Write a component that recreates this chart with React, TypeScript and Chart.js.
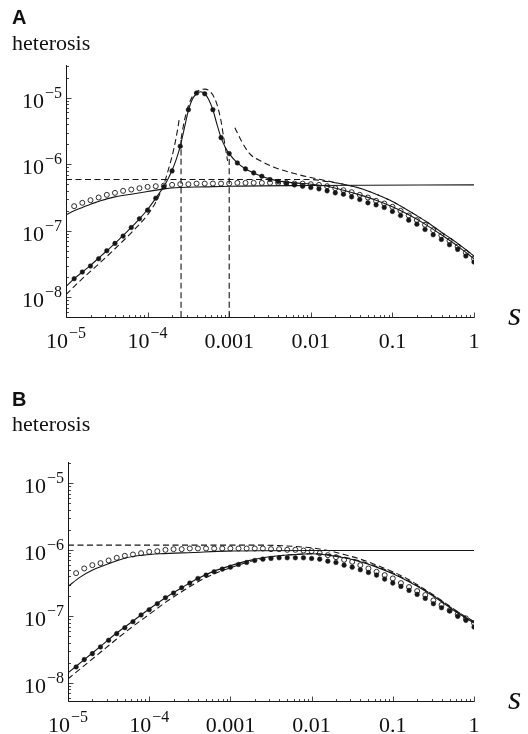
import React, { useEffect, useRef } from "react";
import { Chart, registerables } from "chart.js";

Chart.register(...registerables);

const SERIF = "'Liberation Serif', 'Times New Roman', serif";
const SANS = "'Liberation Sans', Arial, sans-serif";

// ---- axis ticks / labels ----
const xTickValues = [1e-5, 1e-4, 1e-3, 1e-2, 1e-1, 1];
const xTickBase = ["10", "10", "0.001", "0.01", "0.1", "1"];
const xTickExp = ["−5", "−4", "", "", "", ""];
const yTickValues = [1e-8, 1e-7, 1e-6, 1e-5];
const yTickBase = ["10", "10", "10", "10"];
const yTickExp = ["−8", "−7", "−6", "−5"];

// ---- shared simulation abscissae (log10 s) ----
const dotLogS = [
  -4.9, -4.8, -4.7, -4.6, -4.5, -4.4, -4.3, -4.2, -4.1, -4.0,
  -3.9, -3.8, -3.7, -3.6, -3.5, -3.4, -3.3, -3.2, -3.1, -3.0,
  -2.9, -2.8, -2.7, -2.6, -2.5, -2.4, -2.3, -2.2, -2.1, -2.0,
  -1.9, -1.8, -1.7, -1.6, -1.5, -1.4, -1.3, -1.2, -1.1, -1.0,
  -0.9, -0.8, -0.7, -0.6, -0.5, -0.4, -0.3, -0.2, -0.1, 0,
];

// ================= Panel A (log10 heterosis) =================
const A_filled = [
  -7.72, -7.62, -7.53, -7.42, -7.30, -7.19, -7.08, -6.95, -6.82, -6.69,
  -6.51, -6.34, -6.10, -5.73, -5.18, -4.93, -4.94, -5.18, -5.60, -5.84,
  -5.98, -6.07, -6.13, -6.18, -6.23, -6.26, -6.29, -6.31, -6.33, -6.35,
  -6.37, -6.40, -6.43, -6.45, -6.49, -6.53, -6.58, -6.61, -6.65, -6.71,
  -6.77, -6.84, -6.90, -6.98, -7.06, -7.13, -7.21, -7.28, -7.38, -7.47,
];
const A_open = [
  -6.63, -6.58, -6.54, -6.50, -6.46, -6.43, -6.40, -6.38, -6.36, -6.34,
  -6.33, -6.32, -6.31, -6.30, -6.30, -6.29, -6.29, -6.29, -6.29, -6.29,
  -6.28, -6.28, -6.28, -6.28, -6.28, -6.28, -6.28, -6.29, -6.29, -6.30,
  -6.31, -6.33, -6.36, -6.39, -6.42, -6.46, -6.50, -6.55, -6.59, -6.64,
  -6.70, -6.77, -6.84, -6.91, -6.99, -7.07, -7.15, -7.24, -7.33, -7.42,
];
const A_solidPeakS = [
  -5.0, -4.9, -4.8, -4.7, -4.6, -4.5, -4.4, -4.3, -4.2, -4.1, -4.0, -3.9, -3.8,
  -3.75, -3.7, -3.65, -3.6, -3.55, -3.5, -3.45, -3.4, -3.35, -3.3, -3.25, -3.2,
  -3.15, -3.1, -3.05, -3.0, -2.9, -2.8, -2.7, -2.6, -2.5, -2.4, -2.2, -2.0,
  -1.8, -1.6, -1.4, -1.2, -1.0, -0.8, -0.6, -0.4, -0.2, 0,
];
const A_solidPeakH = [
  -7.84, -7.72, -7.62, -7.52, -7.41, -7.30, -7.19, -7.07, -6.95, -6.82, -6.68, -6.51, -6.33,
  -6.22, -6.09, -5.93, -5.73, -5.46, -5.19, -5.02, -4.94, -4.91, -4.94, -5.03, -5.18,
  -5.40, -5.60, -5.74, -5.84, -5.98, -6.07, -6.13, -6.18, -6.22, -6.25, -6.28, -6.30,
  -6.33, -6.39, -6.46, -6.54, -6.64, -6.76, -6.90, -7.06, -7.23, -7.42,
];
const A_dashPeakS = [
  -5.0, -4.8, -4.6, -4.4, -4.2, -4.0, -3.9, -3.8, -3.75, -3.7, -3.66, -3.63, -3.61,
  -3.6,
  -3.59, -3.55, -3.5, -3.45, -3.4, -3.35, -3.3, -3.25, -3.2, -3.15, -3.1, -3.07, -3.04, -3.02,
  -3.0,
  -2.93, -2.85, -2.75, -2.6, -2.46, -2.2, -2.0, -1.8, -1.6, -1.4, -1.2, -1.0, -0.8,
  -0.6, -0.4, -0.2, 0,
];
const A_dashPeakH = [
  -7.96, -7.72, -7.50, -7.27, -7.03, -6.76, -6.57, -6.30, -6.10, -5.88, -5.66, -5.46, -5.30,
  null,
  -5.62, -5.35, -5.12, -4.98, -4.91, -4.88, -4.87, -4.89, -4.96, -5.10, -5.35, -5.58, -5.80, -5.95,
  null,
  -5.45, -5.65, -5.84, -5.96, -6.04, -6.14, -6.20, -6.25, -6.30, -6.36, -6.45, -6.56, -6.70,
  -6.85, -7.02, -7.19, -7.38,
];
const A_solidFlatS = [-5.0, -4.9, -4.8, -4.7, -4.6, -4.5, -4.4, -4.2, -4.0, -3.8, -3.6, -3.3, -3.0, -2.0, 0];
const A_solidFlatH = [-6.76, -6.70, -6.65, -6.60, -6.56, -6.52, -6.49, -6.45, -6.41, -6.37, -6.35, -6.34, -6.33, -6.32, -6.31];
const A_dashFlatS = [-5.0, -2.0, -1.8, -1.6, -1.4, -1.2, -1.0, -0.8, -0.6, -0.4, -0.2, 0];
const A_dashFlatH = [-6.23, -6.23, -6.26, -6.30, -6.36, -6.45, -6.56, -6.70, -6.85, -7.02, -7.19, -7.38];
const A_vLineS = [-3.59, -3.0];
const A_vLineTopH = [-5.62, -5.90];

// ================= Panel B (log10 heterosis) =================
const B_filled = [
  -7.76, -7.65, -7.56, -7.46, -7.36, -7.26, -7.17, -7.08, -6.98, -6.90,
  -6.81, -6.72, -6.65, -6.57, -6.50, -6.43, -6.38, -6.33, -6.29, -6.26,
  -6.22, -6.19, -6.16, -6.14, -6.13, -6.12, -6.12, -6.12, -6.12, -6.13,
  -6.14, -6.17, -6.19, -6.23, -6.26, -6.30, -6.34, -6.38, -6.44, -6.50,
  -6.55, -6.61, -6.67, -6.73, -6.81, -6.87, -6.92, -7.00, -7.06, -7.16,
];
const B_open = [
  -6.35, -6.28, -6.23, -6.20, -6.16, -6.12, -6.09, -6.07, -6.05, -6.03,
  -6.02, -6.00, -5.99, -5.99, -5.98, -5.98, -5.98, -5.98, -5.98, -5.98,
  -5.98, -5.98, -5.98, -5.98, -5.99, -5.99, -6.00, -6.00, -6.01, -6.02,
  -6.05, -6.08, -6.11, -6.15, -6.18, -6.23, -6.28, -6.33, -6.38, -6.43,
  -6.50, -6.56, -6.62, -6.68, -6.76, -6.83, -6.91, -6.97, -7.03, -7.10,
];
const B_solidPeakS = [
  -5.0, -4.9, -4.8, -4.6, -4.4, -4.2, -4.0, -3.8, -3.6, -3.4, -3.2, -3.0, -2.8,
  -2.6, -2.4, -2.2, -2.0, -1.8, -1.6, -1.4, -1.2, -1.0, -0.8, -0.6, -0.4, -0.2, 0,
];
const B_solidPeakH = [
  -7.85, -7.75, -7.65, -7.45, -7.25, -7.07, -6.89, -6.72, -6.57, -6.43, -6.32, -6.24, -6.17,
  -6.12, -6.09, -6.07, -6.06, -6.08, -6.12, -6.18, -6.26, -6.36, -6.48, -6.62, -6.78, -6.95, -7.10,
];
const B_dashLowS = [
  -5.0, -4.8, -4.6, -4.4, -4.2, -4.0, -3.8, -3.6, -3.4, -3.2, -3.0, -2.8, -2.6,
  -2.4, -2.2, -2.0, -1.8, -1.6, -1.4, -1.2, -1.0, -0.8, -0.6, -0.4, -0.2, 0,
];
const B_dashLowH = [
  -7.94, -7.74, -7.54, -7.34, -7.15, -6.97, -6.79, -6.63, -6.48, -6.36, -6.27, -6.19, -6.13,
  -6.09, -6.07, -6.06, -6.07, -6.11, -6.17, -6.25, -6.35, -6.47, -6.61, -6.77, -6.94, -7.09,
];
const B_solidFlatS = [-5.0, -4.85, -4.69, -4.48, -4.28, -4.07, -3.87, -3.46, -3.05, -2.0, 0];
const B_solidFlatH = [-6.55, -6.41, -6.30, -6.20, -6.12, -6.08, -6.06, -6.04, -6.02, -6.01, -6.01];
const B_dashFlatS = [-5.0, -2.6, -2.2, -2.0, -1.8, -1.6, -1.4, -1.2, -1.0, -0.8, -0.6, -0.4, -0.2, 0];
const B_dashFlatH = [-5.93, -5.93, -5.95, -5.97, -6.01, -6.07, -6.14, -6.23, -6.33, -6.45, -6.60, -6.76, -6.93, -7.08];

// ---------------------------------------------------------------
const toPts = (ls: number[], lh: (number | null)[]) =>
  ls.map((e, i) => ({ x: Math.pow(10, e), y: lh[i] === null ? null : Math.pow(10, lh[i] as number) }));

const INK = "#161616";

function lineDs(data: any[], dashed: boolean) {
  return {
    data,
    borderColor: INK,
    borderWidth: 1.1,
    borderDash: dashed ? [6, 3.5] : [],
    pointRadius: 0,
    fill: false,
    cubicInterpolationMode: "monotone",
    spanGaps: false,
    showLine: true,
  };
}
function filledDs(data: any[]) {
  return { data, showLine: false, pointRadius: 2.3, pointBackgroundColor: INK, pointBorderColor: INK, pointBorderWidth: 0.5 };
}
function openDs(data: any[]) {
  return { data, showLine: false, pointRadius: 2.5, pointBackgroundColor: "rgba(0,0,0,0)", pointBorderColor: INK, pointBorderWidth: 0.9 };
}

function drawPow(ctx: CanvasRenderingContext2D, base: string, exp: string, x: number, y: number, align: "center" | "right") {
  ctx.font = `22px ${SERIF}`;
  const wb = ctx.measureText(base).width;
  ctx.font = `16px ${SERIF}`;
  const we = exp ? ctx.measureText(exp).width + 1 : 0;
  const total = wb + we;
  const x0 = align === "center" ? x - total / 2 : x - total;
  ctx.textAlign = "left";
  ctx.textBaseline = "alphabetic";
  ctx.font = `22px ${SERIF}`;
  ctx.fillText(base, x0, y);
  if (exp) {
    ctx.font = `16px ${SERIF}`;
    ctx.fillText(exp, x0 + wb + 1, y - 10);
  }
}

const decorPlugin = {
  id: "decor",
  afterDraw(chart: any, _args: any, opts: any) {
    const { ctx, chartArea: ca, scales } = chart;
    const xs = scales.x;
    const ys = scales.y;
    ctx.save();
    ctx.strokeStyle = INK;
    ctx.fillStyle = INK;
    ctx.lineWidth = 1;
    const ax = Math.round(ca.left) + 0.5;
    const ay = Math.round(ca.bottom) + 0.5;
    ctx.beginPath();
    ctx.moveTo(ax, ca.top);
    ctx.lineTo(ax, ay);
    ctx.lineTo(ca.right + 0.5, ay);
    ctx.stroke();

    // minor / major ticks (inside)
    ctx.lineWidth = 0.8;
    ctx.beginPath();
    for (let e = -9; e <= 0; e++) {
      for (let m = 1; m <= 9; m++) {
        const v = m * Math.pow(10, e);
        if (v >= xs.min * 0.999 && v <= xs.max * 1.001) {
          const px = Math.round(xs.getPixelForValue(v)) + 0.5;
          const len = m === 1 ? 5 : 2.5;
          ctx.moveTo(px, ay);
          ctx.lineTo(px, ay - len);
        }
        if (v >= ys.min && v <= ys.max) {
          const py = Math.round(ys.getPixelForValue(v)) + 0.5;
          const len = m === 1 ? 5 : 2.5;
          ctx.moveTo(ax, py);
          ctx.lineTo(ax + len, py);
        }
      }
    }
    ctx.stroke();

    ctx.fillStyle = "#111";
    xTickValues.forEach((v, i) => {
      drawPow(ctx, xTickBase[i], xTickExp[i], xs.getPixelForValue(v), ca.bottom + 31, "center");
    });
    yTickValues.forEach((v, i) => {
      drawPow(ctx, yTickBase[i], yTickExp[i], ca.left - 4, ys.getPixelForValue(v) + 10, "right");
    });

    // panel letter
    ctx.textAlign = "left";
    ctx.font = `bold 20px ${SANS}`;
    ctx.fillText(opts.letter, 12, opts.letterY);
    ctx.font = `22px ${SERIF}`;
    ctx.fillText("heterosis", 12, opts.labelY);
    ctx.font = `italic 34px ${SERIF}`;
    ctx.fillText("s", ca.right + 34, ca.bottom + 8);
    ctx.restore();
  },
};

function buildConfig(p: any) {
  return {
    type: "line",
    data: { datasets: p.datasets },
    options: {
      responsive: false,
      animation: false,
      events: [],
      layout: { padding: p.padding },
      plugins: {
        legend: { display: false },
        tooltip: { enabled: false },
        decor: { letter: p.letter, letterY: p.letterY, labelY: p.labelY },
      },
      scales: {
        x: {
          type: "logarithmic",
          min: 1e-5,
          max: 1,
          ticks: { display: false },
          grid: { display: false },
          border: { display: false },
          afterFit: (s: any) => { s.height = 0; },
        },
        y: {
          type: "logarithmic",
          min: p.yMin,
          max: p.yMax,
          ticks: { display: false },
          grid: { display: false },
          border: { display: false },
          afterFit: (s: any) => { s.width = 0; },
        },
      },
    },
    plugins: [decorPlugin],
  };
}

function vLines(ls: number[], top: number[], yMin: number) {
  return ls.map((e, i) =>
    lineDs([{ x: Math.pow(10, e), y: yMin }, { x: Math.pow(10, e), y: Math.pow(10, top[i]) }], true)
  );
}

const A_yMin = Math.pow(10, -8.296);
const A_yMax = Math.pow(10, -4.508);
const B_yMin = Math.pow(10, -8.272);
const B_yMax = Math.pow(10, -4.68);

function panelA() {
  return {
    letter: "A",
    letterY: 24,
    labelY: 50,
    yMin: A_yMin,
    yMax: A_yMax,
    padding: { left: 66, right: 54, top: 65, bottom: 50 },
    datasets: [
      filledDs(toPts(dotLogS, A_filled)),
      openDs(toPts(dotLogS, A_open)),
      lineDs(toPts(A_solidPeakS, A_solidPeakH), false),
      lineDs(toPts(A_dashPeakS, A_dashPeakH), true),
      lineDs(toPts(A_solidFlatS, A_solidFlatH), false),
      lineDs(toPts(A_dashFlatS, A_dashFlatH), true),
      ...vLines(A_vLineS, A_vLineTopH, A_yMin),
    ],
  };
}

function panelB() {
  return {
    letter: "B",
    letterY: 39,
    labelY: 64,
    yMin: B_yMin,
    yMax: B_yMax,
    padding: { left: 68, right: 54, top: 95, bottom: 33 },
    datasets: [
      filledDs(toPts(dotLogS, B_filled)),
      openDs(toPts(dotLogS, B_open)),
      lineDs(toPts(B_solidPeakS, B_solidPeakH), false),
      lineDs(toPts(B_dashLowS, B_dashLowH), true),
      lineDs(toPts(B_solidFlatS, B_solidFlatH), false),
      lineDs(toPts(B_dashFlatS, B_dashFlatH), true),
    ],
  };
}

function Panel({ make, top }: { make: () => any; top: number }) {
  const ref = useRef<HTMLCanvasElement | null>(null);
  useEffect(() => {
    if (!ref.current) return;
    const chart = new Chart(ref.current, buildConfig(make()) as any);
    return () => chart.destroy();
  }, [make]);
  return (
    <canvas
      ref={ref}
      width={528}
      height={367}
      style={{ position: "absolute", left: 0, top, width: 528, height: 367 }}
    />
  );
}

export default function App() {
  return (
    <div style={{ position: "absolute", left: 0, top: 0, width: 528, height: 734, background: "#fff" }}>
      <Panel make={panelA} top={0} />
      <Panel make={panelB} top={367} />
    </div>
  );
}
